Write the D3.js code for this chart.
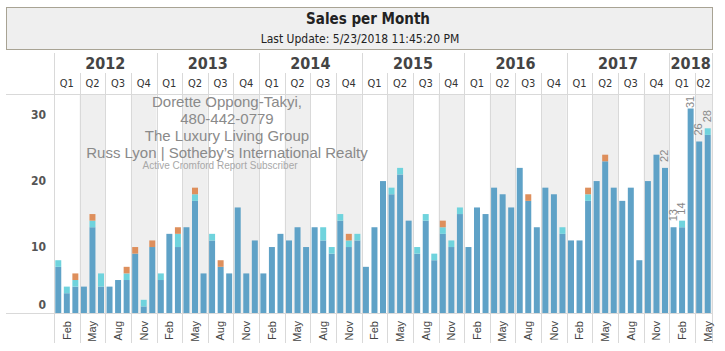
<!DOCTYPE html>
<html lang="en">
<head>
<meta charset="UTF-8">
<title>Sales per Month</title>
<script src="https://cdn.jsdelivr.net/npm/d3@7"></script>
<style>
  body { margin: 0; background: #fff; }
  svg { display: block; }
</style>
</head>
<body>
<script>
// values, Jan 2012 .. May 2018 (77 months)
const years = ["2012", "2013", "2014", "2015", "2016", "2017", "2018"];
const quarterNames = ["Q1", "Q2", "Q3", "Q4"];
const monthNames = ["Jan","Feb","Mar","Apr","May","Jun","Jul","Aug","Sep","Oct","Nov","Dec"];
const yTicks = [0, 10, 20, 30];

const blueVals = [
  7,3,4,4,13,4,4,5,5,9,1,10,
  5,12,10,13,17,6,11,7,6,16,6,11,
  6,10,12,11,13,10,13,11,9,14,10,11,
  7,13,20,18,21,14,9,14,8,12,10,15,
  10,16,15,19,18,16,22,17,13,19,18,12,
  11,11,17,20,23,19,17,19,8,20,24,22,
  13,13,31,26,27
];
const cyanVals = [
  1,1,1,0,1,2,0,0,1,0,1,0,
  1,0,2,0,1,0,1,0,0,0,0,0,
  0,0,0,0,0,0,0,2,1,1,1,1,
  0,0,0,1,1,0,1,1,1,1,1,1,
  0,0,0,0,0,0,0,0,0,0,0,1,
  0,0,1,0,0,0,0,0,0,0,0,0,
  0,1,0,0,1
];
const orangeVals = [
  0,0,1,0,1,0,0,0,1,1,0,1,
  0,0,1,0,1,0,0,1,0,0,0,0,
  0,0,0,0,0,0,0,0,0,0,1,0,
  0,0,0,0,0,0,0,0,0,1,0,0,
  0,0,0,0,0,0,0,1,0,0,0,0,
  0,0,1,0,1,0,0,0,0,0,0,0,
  0,0,0,0,0
];

const watermark = [
  "Dorette Oppong-Takyi,",
  "480-442-0779",
  "The Luxury Living Group",
  "Russ Lyon | Sotheby\u2019s International Realty"
];

const width = 725, height = 351;
const plot = {left: 54, right: 712, top: 94, bottom: 313};
const condensed = "'DejaVu Sans Condensed', 'DejaVu Sans', sans-serif";
const arial = "'Liberation Sans', Arial, sans-serif";

const n = blueVals.length;
const rows = d3.range(n).map(i => ({
  i: i,
  year: 2012 + Math.floor(i / 12),
  month: i % 12,
  blue: blueVals[i], cyan: cyanVals[i], orange: orangeVals[i]
}));

const x = d3.scaleBand().domain(d3.range(n))
  .range([plot.left, plot.right]).paddingInner(0.3).paddingOuter(0.15);
const edge = d3.scaleLinear().domain([0, n]).range([plot.left, plot.right]);
const y = d3.scaleLinear().domain([0, 33.2]).range([plot.bottom, plot.top]);

const svg = d3.select("body").append("svg")
  .attr("width", width).attr("height", height)
  .attr("viewBox", [0, 0, width, height]);

// title box
svg.append("rect").attr("x", 6.5).attr("y", 7.5).attr("width", 706).attr("height", 42)
  .attr("fill", "#efefef").attr("stroke", "#a8a394");
svg.append("text").attr("x", 368).attr("y", 24).attr("text-anchor", "middle")
  .attr("font-family", condensed).attr("font-weight", "bold").attr("font-size", 15)
  .attr("fill", "#222").text("Sales per Month");
svg.append("text").attr("x", 360).attr("y", 43).attr("text-anchor", "middle")
  .attr("font-family", condensed).attr("font-size", 12)
  .attr("fill", "#222").text("Last Update: 5/23/2018 11:45:20 PM");

// quarter spans
const quarters = [];
for (let s = 0; s < n; s += 3) {
  quarters.push({start: s, end: Math.min(s + 3, n), q: (s / 3) % 4});
}
const yearSpans = years.map((yr, k) => ({
  label: yr, start: k * 12, end: Math.min(k * 12 + 12, n)
}));

// shaded Q2 / Q4 lanes
svg.append("g").selectAll("rect")
  .data(quarters.filter(d => d.q % 2 === 1))
  .join("rect")
  .attr("x", d => edge(d.start)).attr("y", plot.top)
  .attr("width", d => edge(d.end) - edge(d.start))
  .attr("height", plot.bottom - plot.top)
  .attr("fill", "#efefef");

// separators
const grid = svg.append("g").attr("stroke", "#d9d9d9").attr("stroke-width", 1);
grid.selectAll(".ql")
  .data(quarters.map(d => d.start).concat([n]))
  .join("line")
  .attr("x1", d => Math.round(edge(d)) + 0.5).attr("x2", d => Math.round(edge(d)) + 0.5)
  .attr("y1", 73).attr("y2", 343);
grid.selectAll(".yl")
  .data(yearSpans.map(d => d.start).concat([n]))
  .join("line")
  .attr("x1", d => Math.round(edge(d)) + 0.5).attr("x2", d => Math.round(edge(d)) + 0.5)
  .attr("y1", 53).attr("y2", 73);
grid.append("line").attr("x1", 6).attr("x2", plot.right + 0.5)
  .attr("y1", plot.top + 0.5).attr("y2", plot.top + 0.5);
grid.append("line").attr("x1", 6).attr("x2", plot.right + 0.5)
  .attr("y1", plot.bottom + 0.5).attr("y2", plot.bottom + 0.5);

// year and quarter header
svg.append("g").selectAll("text")
  .data(yearSpans)
  .join("text")
  .attr("x", d => (edge(d.start) + edge(d.end)) / 2)
  .attr("y", 69)
  .attr("text-anchor", "middle")
  .attr("font-family", condensed).attr("font-weight", "bold").attr("font-size", 16)
  .attr("fill", "#444")
  .text(d => d.label);
svg.append("g").selectAll("text")
  .data(quarters)
  .join("text")
  .attr("x", d => (edge(d.start) + edge(d.end)) / 2)
  .attr("y", 87)
  .attr("text-anchor", "middle")
  .attr("font-family", condensed).attr("font-size", 11)
  .attr("fill", "#333")
  .text(d => quarterNames[d.q]);

// watermark
const wm = svg.append("g").attr("font-family", arial).attr("text-anchor", "middle");
wm.selectAll("text")
  .data(watermark)
  .join("text")
  .attr("x", 227)
  .attr("y", (d, k) => [107, 124, 141, 158][k])
  .attr("font-size", 15)
  .attr("fill", "#8a8a8a")
  .text(d => d);
wm.append("text").attr("x", 220).attr("y", 169).attr("font-size", 10)
  .attr("fill", "#a8a8a8").text("Active Cromford Report Subscriber");

// stacked bars
const keys = ["blue", "cyan", "orange"];
const colors = {blue: "#5fa2c7", cyan: "#6fd3dd", orange: "#de8f5c"};
const stacked = d3.stack().keys(keys)(rows);
svg.append("g").selectAll("g")
  .data(stacked)
  .join("g")
  .attr("fill", d => colors[d.key])
  .selectAll("rect")
  .data(d => d.filter(s => s[1] > s[0]))
  .join("rect")
  .attr("x", d => x(d.data.i))
  .attr("y", d => y(d[1]))
  .attr("width", x.bandwidth())
  .attr("height", d => y(d[0]) - y(d[1]));

// totals on the last six months
const lastSix = rows.slice(-6);
svg.append("g").selectAll("text")
  .data(lastSix)
  .join("text")
  .attr("transform", d => {
    const t = d.blue + d.cyan + d.orange;
    const yy = Math.max(y(t) - 6, plot.top + 14);
    return `translate(${x(d.i) + x.bandwidth() / 2 - 1},${yy}) rotate(-90)`;
  })
  .attr("dominant-baseline", "central")
  .attr("font-family", arial).attr("font-size", 11)
  .attr("fill", "#888")
  .text(d => d.blue + d.cyan + d.orange);

// y axis
const yAxis = svg.append("g")
  .attr("transform", `translate(46,0)`)
  .call(d3.axisLeft(y).tickValues(yTicks).tickSize(0).tickPadding(0));
yAxis.select(".domain").remove();
yAxis.selectAll("text")
  .attr("font-family", condensed).attr("font-weight", "bold").attr("font-size", 12)
  .attr("fill", "#555")
  .attr("y", d => d === 0 ? -8 : 0);

// month axis at the bottom
const xAxis = svg.append("g")
  .attr("transform", `translate(0,${plot.bottom})`)
  .call(d3.axisBottom(x)
    .tickValues(d3.range(n).filter(i => i % 3 === 1))
    .tickSize(0)
    .tickFormat(i => monthNames[i % 12]));
xAxis.select(".domain").remove();
xAxis.selectAll("text")
  .attr("transform", "rotate(-90)")
  .attr("x", -8).attr("y", 0).attr("dy", "0.35em")
  .attr("text-anchor", "end")
  .attr("font-family", arial).attr("font-size", 11)
  .attr("fill", "#444");
</script>
</body>
</html>
